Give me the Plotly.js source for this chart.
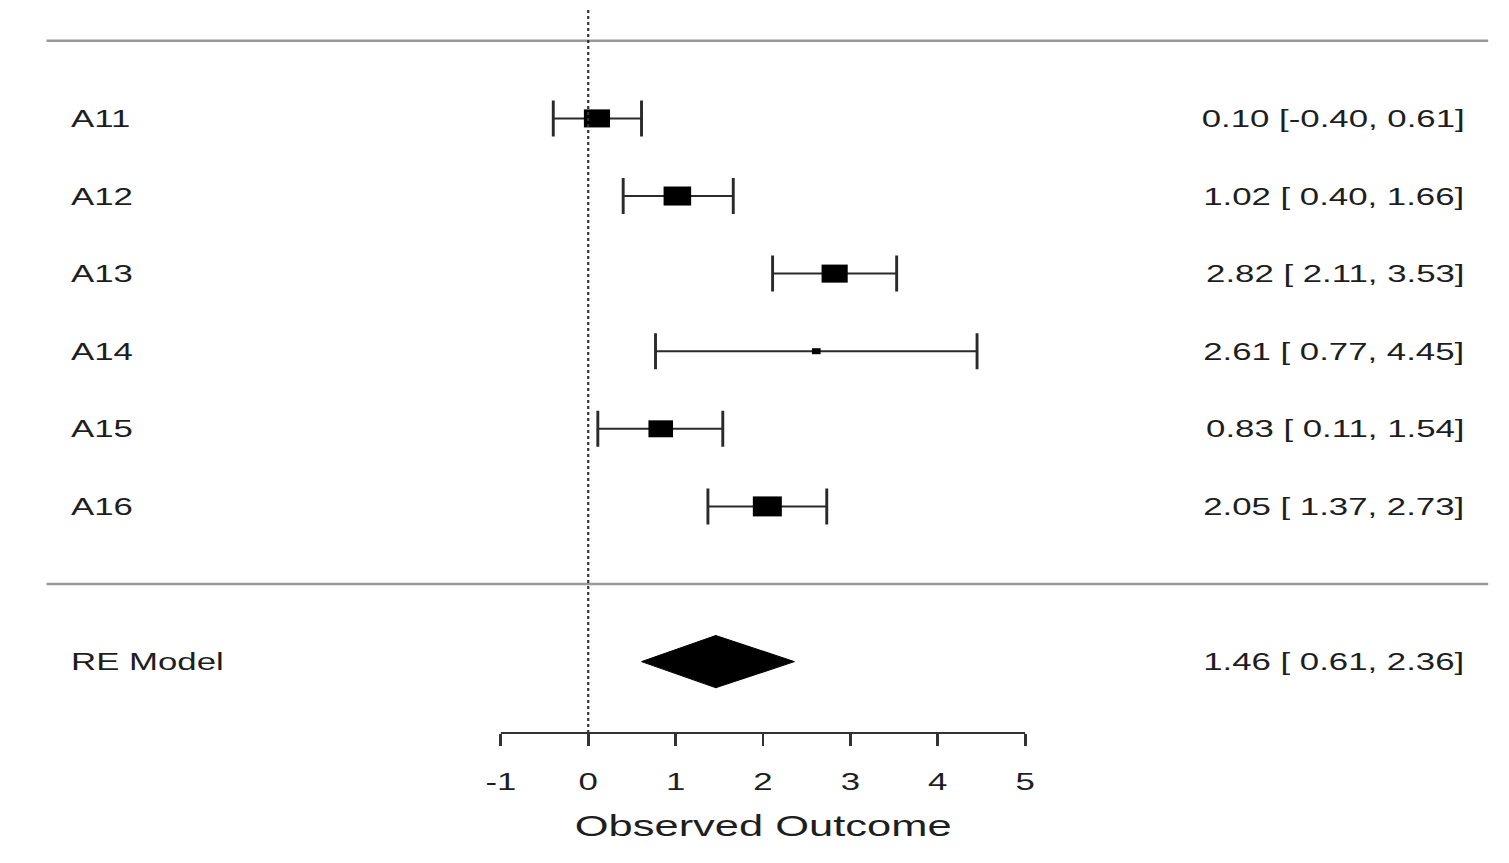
<!DOCTYPE html>
<html>
<head>
<meta charset="utf-8">
<script src="https://cdn.plot.ly/plotly-3.0.1.min.js"></script>
<style>
  html, body { margin: 0; padding: 0; background: #fff; overflow: hidden; }
  #wrap { width: 1509px; height: 863px; overflow: hidden; }
  #chart { width: 1041px; height: 863px; transform-origin: 0 0; }
</style>
</head>
<body>
<div id="wrap"><div id="chart"></div></div>
<script>
// ---- data ----
const studies   = ['A11', 'A12', 'A13', 'A14', 'A15', 'A16'];
const estimates = [0.10, 1.02, 2.82, 2.61, 0.83, 2.05];
const lowerCI   = [-0.40, 0.40, 2.11, 0.77, 0.11, 1.37];
const upperCI   = [0.61, 1.66, 3.53, 4.45, 1.54, 2.73];
const weights   = [18.4, 19.4, 18.4, 6.1, 17.3, 20.4];
const summaryLabel = ['RE Model'];
const summaryEst   = [1.46];
const summaryLower = [0.61];
const summaryUpper = [2.36];
const tickValues = [-1, 0, 1, 2, 3, 4, 5];
const tickLabels = ['-1', '0', '1', '2', '3', '4', '5'];
const xTitle = 'Observed Outcome';

// ---- layout helpers ----
const SCALE = 1509 / 1041;           // horizontal stretch of the whole figure
const W = 1041, H = 863;
const k = studies.length;
const rows = studies.map((_, i) => k - i);
const summaryRow = -1;
const xlim = [-6.2, 10.3];
const font = 'Liberation Sans, Arial, sans-serif';
const txtColor = '#1e1e1e';
const maxW = Math.max(...weights);
const sizes = weights.map(w => 20 * w / maxW);
const fmt = v => v.toFixed(2);
const ciText = (e, l, u) => fmt(e) + ' [' + (l < 0 ? '' : ' ') + fmt(l) + ', ' + fmt(u) + ']';
const dh = 0.335;

document.getElementById('chart').style.transform = 'scaleX(' + SCALE + ')';

const studyTrace = {
  type: 'scatter', mode: 'markers',
  x: estimates, y: rows,
  marker: { symbol: 'square', size: sizes, color: '#000', opacity: 1, line: { width: 0 } },
  error_x: {
    type: 'data', symmetric: false,
    array: estimates.map((e, i) => upperCI[i] - e),
    arrayminus: estimates.map((e, i) => e - lowerCI[i]),
    width: 18, thickness: 2, color: '#2a2a2a'
  },
  hoverinfo: 'skip', showlegend: false
};

const diamond = {
  type: 'scatter', mode: 'lines',
  x: [summaryLower[0], summaryEst[0], summaryUpper[0], summaryEst[0], summaryLower[0]],
  y: [summaryRow, summaryRow + dh, summaryRow, summaryRow - dh, summaryRow],
  fill: 'toself', fillcolor: '#000',
  line: { color: '#000', width: 1 },
  hoverinfo: 'skip', showlegend: false
};

const annotations = [];
const addRow = (label, e, l, u, row) => {
  annotations.push({ x: xlim[0] + 0.25, y: row, xref: 'x', yref: 'y', text: label,
    xanchor: 'left', yanchor: 'middle', showarrow: false,
    font: { family: font, size: 24, color: txtColor } });
  annotations.push({ x: xlim[1] - 0.25, y: row, xref: 'x', yref: 'y',
    text: ciText(e, l, u),
    xanchor: 'right', yanchor: 'middle', showarrow: false,
    font: { family: font, size: 24, color: txtColor } });
};
studies.forEach((s, i) => addRow(s, estimates[i], lowerCI[i], upperCI[i], rows[i]));
addRow(summaryLabel[0], summaryEst[0], summaryLower[0], summaryUpper[0], summaryRow);

const shapes = [
  { type: 'line', xref: 'x', yref: 'y', x0: xlim[0], x1: xlim[1], y0: k + 1, y1: k + 1,
    line: { color: '#999', width: 2.5 } },
  { type: 'line', xref: 'x', yref: 'y', x0: xlim[0], x1: xlim[1], y0: 0, y1: 0,
    line: { color: '#999', width: 2.5 } },
  { type: 'line', xref: 'x', yref: 'paper', x0: 0, x1: 0, y0: 0, y1: 0.99,
    line: { color: '#333', width: 1.5, dash: 'dot' } },
  { type: 'line', xref: 'x', yref: 'paper', x0: tickValues[0], x1: tickValues[tickValues.length - 1], y0: 0, y1: 0,
    line: { color: '#333', width: 2 } }
];

const layout = {
  width: W, height: H,
  margin: { l: 17 / SCALE, r: 0, t: 0, b: 130, pad: 0 },
  paper_bgcolor: '#fff', plot_bgcolor: '#fff',
  showlegend: false,
  xaxis: {
    range: [-6.533, 10.538], showgrid: false, zeroline: false, showline: false,
    tickmode: 'array', tickvals: tickValues, ticktext: tickLabels,
    ticks: 'outside', ticklen: 12, tickwidth: 2, tickcolor: '#333',
    ticklabelstandoff: 15,
    tickfont: { family: font, size: 24, color: txtColor },
    title: { text: xTitle, font: { family: font, size: 30, color: txtColor }, standoff: 21 },
    fixedrange: true
  },
  yaxis: {
    range: [-1.92, 7.526], showgrid: false, zeroline: false, showline: false,
    showticklabels: false, ticks: '', fixedrange: true
  },
  shapes: shapes,
  annotations: annotations
};

Plotly.newPlot('chart', [studyTrace, diamond], layout, { staticPlot: true, displayModeBar: false });
</script>
</body>
</html>
